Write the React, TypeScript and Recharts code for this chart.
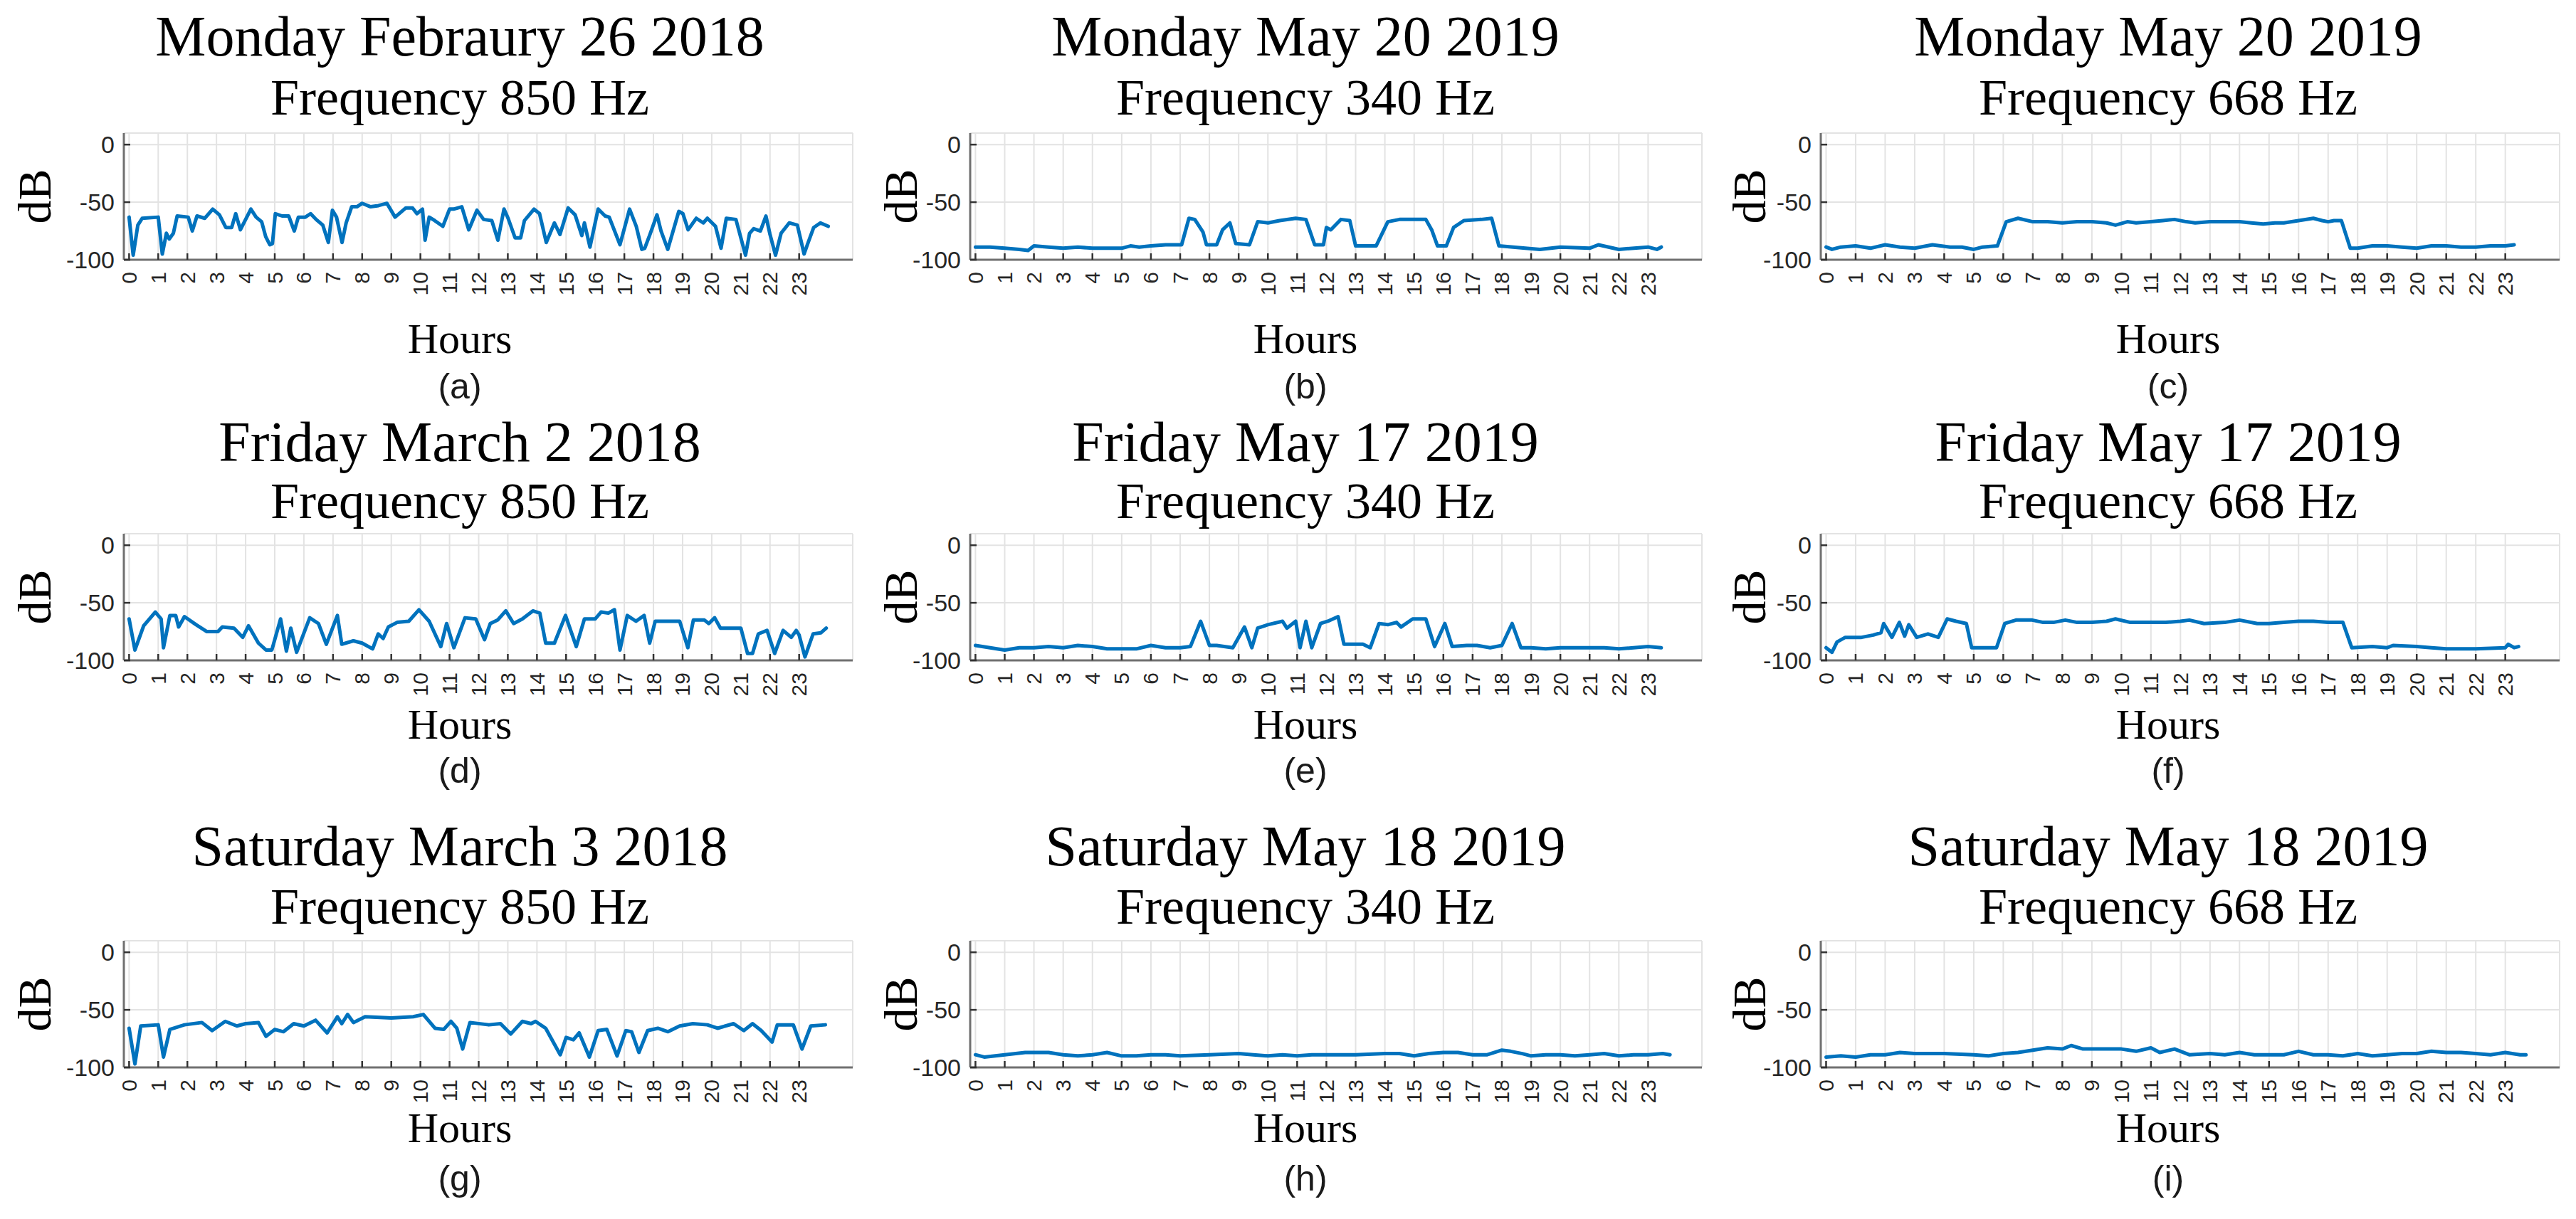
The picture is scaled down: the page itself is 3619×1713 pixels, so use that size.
import React from "react";
import { LineChart, Line, XAxis, YAxis, CartesianGrid } from "recharts";

// hour ticks along the bottom, dB ticks on the left
const HOUR_TICKS = [0, 1, 2, 3, 4, 5, 6, 7, 8, 9, 10, 11, 12, 13, 14, 15, 16, 17, 18, 19, 20, 21, 22, 23];
const DB_TICKS = [-100, -50, 0];

const TITLES = [
  "Monday Febraury 26 2018", "Monday May 20 2019", "Monday May 20 2019",
  "Friday March 2 2018", "Friday May 17 2019", "Friday May 17 2019",
  "Saturday March 3 2018", "Saturday May 18 2019", "Saturday May 18 2019",
];
const FREQS = [
  "Frequency 850 Hz", "Frequency 340 Hz", "Frequency 668 Hz",
  "Frequency 850 Hz", "Frequency 340 Hz", "Frequency 668 Hz",
  "Frequency 850 Hz", "Frequency 340 Hz", "Frequency 668 Hz",
];
const TAGS = ["(a)", "(b)", "(c)", "(d)", "(e)", "(f)", "(g)", "(h)", "(i)"];

// [hour, dB]
const feb26_850 = [
  [0, -63], [0.14, -96], [0.3, -70], [0.45, -64], [1.0, -63], [1.14, -95], [1.28, -77], [1.38, -82], [1.52, -77], [1.65, -62],
  [2.03, -63], [2.17, -75], [2.33, -62], [2.6, -64], [2.87, -56], [3.1, -61], [3.32, -72], [3.52, -72], [3.66, -60], [3.82, -74],
  [4.18, -56], [4.36, -63], [4.55, -67], [4.69, -80], [4.83, -87], [4.92, -86], [5.02, -60], [5.25, -62], [5.48, -62], [5.67, -75],
  [5.81, -63], [6.05, -63], [6.23, -60], [6.42, -65], [6.65, -70], [6.84, -85], [6.98, -57], [7.12, -63], [7.31, -85], [7.45, -68],
  [7.64, -54], [7.82, -54], [8.0, -51], [8.29, -54], [8.56, -53], [8.85, -51], [9.13, -63], [9.5, -55], [9.73, -55], [9.88, -60],
  [10.07, -56], [10.16, -83], [10.3, -63], [10.49, -66], [10.77, -71], [11.0, -56], [11.14, -56], [11.42, -54], [11.66, -74], [11.94, -57],
  [12.17, -65], [12.45, -66], [12.66, -83], [12.87, -56], [13.01, -64], [13.25, -81], [13.44, -81], [13.57, -66], [13.9, -56], [14.09, -60],
  [14.32, -85], [14.6, -68], [14.79, -78], [15.07, -55], [15.31, -61], [15.54, -79], [15.63, -68], [15.82, -89], [16.1, -56], [16.34, -62],
  [16.48, -63], [16.85, -87], [17.18, -56], [17.41, -71], [17.6, -91], [17.7, -90], [17.88, -78], [18.12, -61], [18.26, -75], [18.49, -91],
  [18.87, -58], [19.01, -60], [19.19, -74], [19.47, -64], [19.71, -68], [19.85, -64], [20.13, -71], [20.32, -90], [20.5, -64], [20.83, -65],
  [21.16, -96], [21.3, -77], [21.44, -73], [21.67, -75], [21.86, -62], [22.0, -78], [22.19, -96], [22.38, -77], [22.66, -68], [22.94, -70],
  [23.17, -95], [23.31, -85], [23.5, -72], [23.73, -68], [24.0, -71],
];

const may20_340 = [
  [0, -89], [0.5, -89], [1, -90], [1.5, -91], [1.8, -92], [2, -88], [2.5, -89], [3, -90], [3.5, -89], [4, -90],
  [4.5, -90], [5, -90], [5.3, -88], [5.6, -89], [6, -88], [6.5, -87], [7.05, -87], [7.3, -64], [7.5, -65], [7.78, -76],
  [7.9, -87], [8.25, -87], [8.45, -74], [8.7, -68], [8.9, -86], [9.37, -87], [9.65, -67], [10.0, -68], [10.4, -66], [10.95, -64],
  [11.3, -65], [11.6, -87], [11.9, -87], [12.0, -72], [12.15, -74], [12.5, -65], [12.8, -66], [13.0, -88], [13.7, -88], [14.1, -67],
  [14.5, -65], [15.4, -65], [15.6, -74], [15.8, -88], [16.1, -88], [16.35, -72], [16.7, -66], [17.3, -65], [17.65, -64], [17.9, -88],
  [18.8, -90], [19.3, -91], [20, -89], [21, -90], [21.3, -87], [22, -91], [23, -89], [23.3, -91], [23.45, -89],
];

const may20_668 = [
  [0, -89], [0.2, -91], [0.5, -89], [1, -88], [1.5, -90], [2, -87], [2.5, -89], [3, -90], [3.6, -87], [4.2, -89],
  [4.6, -89], [5, -91], [5.3, -89], [5.8, -88], [6.1, -67], [6.5, -64], [7, -67], [7.5, -67], [8, -68], [8.5, -67],
  [9, -67], [9.5, -68], [9.8, -70], [10.2, -67], [10.5, -68], [11, -67], [11.4, -66], [11.8, -65], [12.2, -67], [12.5, -68],
  [13, -67], [13.5, -67], [14, -67], [14.4, -68], [14.8, -69], [15.2, -68], [15.5, -68], [16, -66], [16.5, -64], [16.8, -66],
  [17.0, -67], [17.2, -66], [17.45, -66], [17.75, -90], [18, -90], [18.5, -88], [19, -88], [19.5, -89], [20, -90], [20.5, -88],
  [21, -88], [21.5, -89], [22, -89], [22.5, -88], [23, -88], [23.3, -87],
];

const mar2_850 = [
  [0, -64], [0.2, -91], [0.5, -70], [0.9, -58], [1.1, -64], [1.18, -89], [1.4, -61], [1.6, -61], [1.7, -71], [1.9, -62],
  [2.3, -69], [2.67, -75], [3.05, -75], [3.2, -71], [3.6, -72], [3.9, -80], [4.1, -70], [4.44, -85], [4.7, -91], [4.9, -91],
  [5.2, -64], [5.4, -92], [5.55, -72], [5.75, -93], [6.2, -63], [6.5, -68], [6.77, -86], [7.15, -61], [7.3, -86], [7.7, -83],
  [8, -85], [8.36, -90], [8.55, -77], [8.72, -81], [8.9, -71], [9.2, -67], [9.6, -66], [9.95, -56], [10.3, -66], [10.7, -88],
  [10.9, -68], [11.15, -89], [11.53, -63], [11.9, -64], [12.2, -82], [12.4, -68], [12.65, -65], [12.93, -57], [13.2, -68], [13.5, -64],
  [13.86, -57], [14.1, -59], [14.3, -85], [14.6, -85], [14.98, -61], [15.35, -88], [15.63, -64], [16.0, -64], [16.2, -58], [16.45, -59],
  [16.66, -56], [16.85, -91], [17.1, -61], [17.4, -66], [17.68, -61], [17.87, -85], [18.06, -66], [18.9, -66], [19.18, -89], [19.37, -65],
  [19.75, -65], [19.9, -68], [20.1, -63], [20.3, -72], [21, -72], [21.23, -94], [21.4, -94], [21.6, -77], [21.9, -74], [22.16, -94],
  [22.45, -74], [22.73, -80], [22.9, -74], [23.0, -78], [23.2, -97], [23.48, -77], [23.75, -76], [23.93, -72],
];

const may17_340 = [
  [0, -87], [0.5, -89], [1, -91], [1.5, -89], [2, -89], [2.5, -88], [3, -89], [3.5, -87], [4, -88], [4.5, -90],
  [5, -90], [5.5, -90], [6, -87], [6.5, -89], [7, -89], [7.35, -88], [7.7, -66], [8.0, -87], [8.25, -87], [8.8, -89],
  [9.2, -71], [9.45, -89], [9.65, -72], [10, -69], [10.5, -66], [10.65, -72], [10.95, -66], [11.1, -89], [11.3, -66], [11.5, -89],
  [11.8, -68], [12.05, -66], [12.4, -62], [12.6, -86], [13.25, -86], [13.5, -89], [13.8, -68], [14.1, -69], [14.4, -67], [14.55, -71],
  [14.95, -64], [15.4, -64], [15.7, -88], [16.05, -68], [16.3, -88], [16.8, -87], [17.15, -87], [17.6, -89], [18.0, -87], [18.35, -68],
  [18.65, -89], [19, -89], [19.5, -90], [20, -89], [20.5, -89], [21, -89], [21.5, -89], [22, -90], [22.5, -89], [23, -88],
  [23.45, -89],
];

const may17_668 = [
  [0, -89], [0.2, -93], [0.37, -84], [0.65, -80], [1.2, -80], [1.6, -78], [1.86, -76], [1.95, -68], [2.23, -80], [2.48, -67],
  [2.66, -79], [2.8, -69], [3.07, -80], [3.45, -77], [3.8, -80], [4.1, -64], [4.4, -66], [4.75, -68], [4.93, -89], [5.77, -89],
  [6.05, -68], [6.43, -65], [6.98, -65], [7.35, -67], [7.7, -67], [8.1, -65], [8.5, -67], [9, -67], [9.5, -66], [9.8, -64],
  [10.3, -67], [11, -67], [11.5, -67], [12, -66], [12.3, -65], [12.8, -68], [13.5, -67], [14, -65], [14.6, -68], [15, -68],
  [15.5, -67], [16, -66], [16.5, -66], [17, -67], [17.5, -67], [17.8, -89], [18.5, -88], [19, -89], [19.2, -87], [20, -88],
  [20.5, -89], [21, -90], [22, -90], [23, -89], [23.1, -86], [23.3, -89], [23.45, -88],
];

const mar3_850 = [
  [0, -66], [0.2, -97], [0.4, -64], [1.0, -63], [1.18, -91], [1.4, -67], [1.9, -63], [2.5, -61], [2.85, -68], [3.3, -60],
  [3.7, -64], [4.0, -62], [4.44, -61], [4.7, -73], [5.0, -67], [5.3, -69], [5.65, -62], [6.0, -64], [6.4, -59], [6.8, -70],
  [7.15, -56], [7.3, -62], [7.5, -54], [7.7, -61], [8.1, -56], [9.0, -57], [9.75, -56], [10.1, -54], [10.5, -66], [10.8, -67],
  [11.05, -60], [11.25, -66], [11.45, -84], [11.7, -61], [12.35, -63], [12.75, -62], [13.1, -71], [13.5, -60], [13.8, -62], [13.95, -60],
  [14.3, -66], [14.8, -89], [15.0, -74], [15.25, -76], [15.45, -70], [15.8, -91], [16.1, -68], [16.4, -67], [16.75, -90], [17.05, -68],
  [17.25, -69], [17.5, -87], [17.8, -68], [18.15, -66], [18.5, -69], [18.9, -64], [19.35, -62], [19.85, -63], [20.2, -66], [20.75, -62],
  [21.1, -68], [21.4, -62], [21.7, -68], [22.07, -78], [22.25, -63], [22.8, -63], [23.1, -84], [23.4, -64], [23.9, -63],
];

const may18_340 = [
  [0, -89], [0.3, -91], [1, -89], [1.7, -87], [2, -87], [2.5, -87], [3, -89], [3.5, -90], [4, -89], [4.5, -87],
  [5, -90], [5.5, -90], [6, -89], [6.5, -89], [7, -90], [8, -89], [9, -88], [9.5, -89], [10, -90], [10.5, -89],
  [11, -90], [11.5, -89], [12, -89], [13, -89], [14, -88], [14.5, -88], [15, -90], [15.5, -88], [16, -87], [16.5, -87],
  [17, -89], [17.5, -89], [18, -85], [18.3, -86], [18.7, -88], [19, -90], [19.5, -89], [20, -89], [20.5, -90], [21, -89],
  [21.5, -88], [22, -90], [22.5, -89], [23, -89], [23.5, -88], [23.75, -89],
];

const may18_668 = [
  [0, -91], [0.5, -90], [1, -91], [1.5, -89], [2, -89], [2.5, -87], [3, -88], [4, -88], [5, -89], [5.5, -90],
  [6, -88], [6.5, -87], [7, -85], [7.5, -83], [8, -84], [8.3, -81], [8.7, -84], [9.5, -84], [10, -84], [10.5, -86],
  [11, -83], [11.3, -87], [11.8, -84], [12.3, -89], [13, -88], [13.5, -89], [14, -87], [14.5, -89], [15, -89], [15.5, -89],
  [16, -86], [16.5, -89], [17, -89], [17.5, -90], [18, -88], [18.5, -90], [19, -89], [19.5, -88], [20, -88], [20.5, -86],
  [21, -87], [21.5, -87], [22, -88], [22.5, -89], [23, -87], [23.5, -89], [23.7, -89],
];

const SERIES = [feb26_850, may20_340, may20_668, mar2_850, may17_340, may17_668, mar3_850, may18_340, may18_668];

// layout of the 3x3 grid, in page pixels (plot box edges, text baselines)
const COLS = [
  { left: 174, right: 1198, center: 646, dbX: 48 },
  { left: 1363, right: 2391, center: 1834, dbX: 1265 },
  { left: 2558, right: 3596, center: 3046, dbX: 2457 },
];
const ROWS = [
  { top: 187, bottom: 365, t1: 78, t2: 161, hours: 496, tag: 560 },
  { top: 750, bottom: 928, t1: 648, t2: 728, hours: 1038, tag: 1100 },
  { top: 1322, bottom: 1500, t1: 1216, t2: 1298, hours: 1605, tag: 1673 },
];

const X_DOMAIN = [-0.18, 24.84];
const Y_DOMAIN = [-100, 10];
const PAD_L = 230;
const PAD_T = 12;
const PAD_R = 12;
const X_H = 90;

const SANS = '"Liberation Sans", Arial, Helvetica, sans-serif';
const SERIF = '"Liberation Serif", "Times New Roman", serif';
const BOX = "#707070";
const TICK = "#333333";

const HourTick = (props: any) => {
  const { x, y, payload } = props;
  return (
    <text
      transform={`translate(${x},${y + 26}) rotate(-90)`}
      textAnchor="end"
      dominantBaseline="central"
      fontSize={30}
      fontFamily={SANS}
      fill="#262626"
    >
      {payload.value}
    </text>
  );
};

function Panel({ idx }: { idx: number }) {
  const col = COLS[idx % 3];
  const row = ROWS[Math.floor(idx / 3)];
  const data = SERIES[idx].map(([h, db]) => ({ h, db }));
  const w = col.right - col.left + PAD_L + PAD_R;
  const hgt = row.bottom - row.top + PAD_T + X_H;

  return (
    <div style={{ position: "absolute", left: col.left - PAD_L, top: row.top - PAD_T }}>
      <LineChart width={w} height={hgt} data={data} margin={{ top: PAD_T, right: PAD_R, bottom: 0, left: 0 }}>
        <CartesianGrid stroke="#e3e3e3" strokeWidth={2} />
        <XAxis
          xAxisId="top"
          orientation="top"
          type="number"
          dataKey="h"
          domain={X_DOMAIN}
          ticks={HOUR_TICKS}
          interval={0}
          height={0}
          tick={false}
          tickSize={-9}
          allowDataOverflow
          axisLine={{ stroke: BOX, strokeWidth: 3 }}
          tickLine={{ stroke: TICK, strokeWidth: 2.5 }}
        />
        <XAxis
          type="number"
          dataKey="h"
          domain={X_DOMAIN}
          ticks={HOUR_TICKS}
          interval={0}
          height={X_H}
          tickSize={-9}
          tickMargin={0}
          allowDataOverflow
          tick={<HourTick />}
          axisLine={{ stroke: BOX, strokeWidth: 3 }}
          tickLine={{ stroke: TICK, strokeWidth: 2.5 }}
        />
        <YAxis
          type="number"
          domain={Y_DOMAIN}
          ticks={DB_TICKS}
          interval={0}
          width={PAD_L}
          tickSize={-9}
          tickMargin={22}
          allowDataOverflow
          tick={{ fontSize: 34, fill: "#262626", fontFamily: SANS }}
          axisLine={{ stroke: BOX, strokeWidth: 3 }}
          tickLine={{ stroke: TICK, strokeWidth: 2.5 }}
        />
        <YAxis
          yAxisId="right"
          orientation="right"
          type="number"
          domain={Y_DOMAIN}
          ticks={DB_TICKS}
          interval={0}
          width={0}
          tick={false}
          tickSize={-9}
          allowDataOverflow
          axisLine={{ stroke: BOX, strokeWidth: 3 }}
          tickLine={{ stroke: TICK, strokeWidth: 2.5 }}
        />
        <Line
          type="linear"
          dataKey="db"
          stroke="#0072BD"
          strokeWidth={5}
          strokeLinejoin="round"
          strokeLinecap="round"
          dot={false}
          activeDot={false}
          isAnimationActive={false}
        />
      </LineChart>
    </div>
  );
}

function Labels() {
  return (
    <svg width={3619} height={1713} style={{ position: "absolute", left: 0, top: 0, pointerEvents: "none" }}>
      {TITLES.map((title, i) => {
        const col = COLS[i % 3];
        const row = ROWS[Math.floor(i / 3)];
        const midY = (row.top + row.bottom) / 2;
        return (
          <g key={i}>
            <text x={col.center} y={row.t1} textAnchor="middle" fontFamily={SERIF} fontSize={80} fill="#000">{title}</text>
            <text x={col.center} y={row.t2} textAnchor="middle" fontFamily={SERIF} fontSize={72} fill="#000">{FREQS[i]}</text>
            <text
              transform={`translate(${col.dbX},${midY}) rotate(-90)`}
              textAnchor="middle"
              dominantBaseline="central"
              fontFamily={SERIF}
              fontSize={66}
              fill="#000"
            >
              dB
            </text>
            <text x={col.center} y={row.hours} textAnchor="middle" fontFamily={SERIF} fontSize={60} fill="#000">Hours</text>
            <text x={col.center} y={row.tag} textAnchor="middle" fontFamily={SANS} fontSize={50} fill="#1a1a1a">{TAGS[i]}</text>
          </g>
        );
      })}
    </svg>
  );
}

export default function App() {
  return (
    <div style={{ position: "absolute", left: 0, top: 0, width: 3619, height: 1713, background: "#fff" }}>
      {TITLES.map((_, i) => (
        <Panel key={i} idx={i} />
      ))}
      <Labels />
    </div>
  );
}
